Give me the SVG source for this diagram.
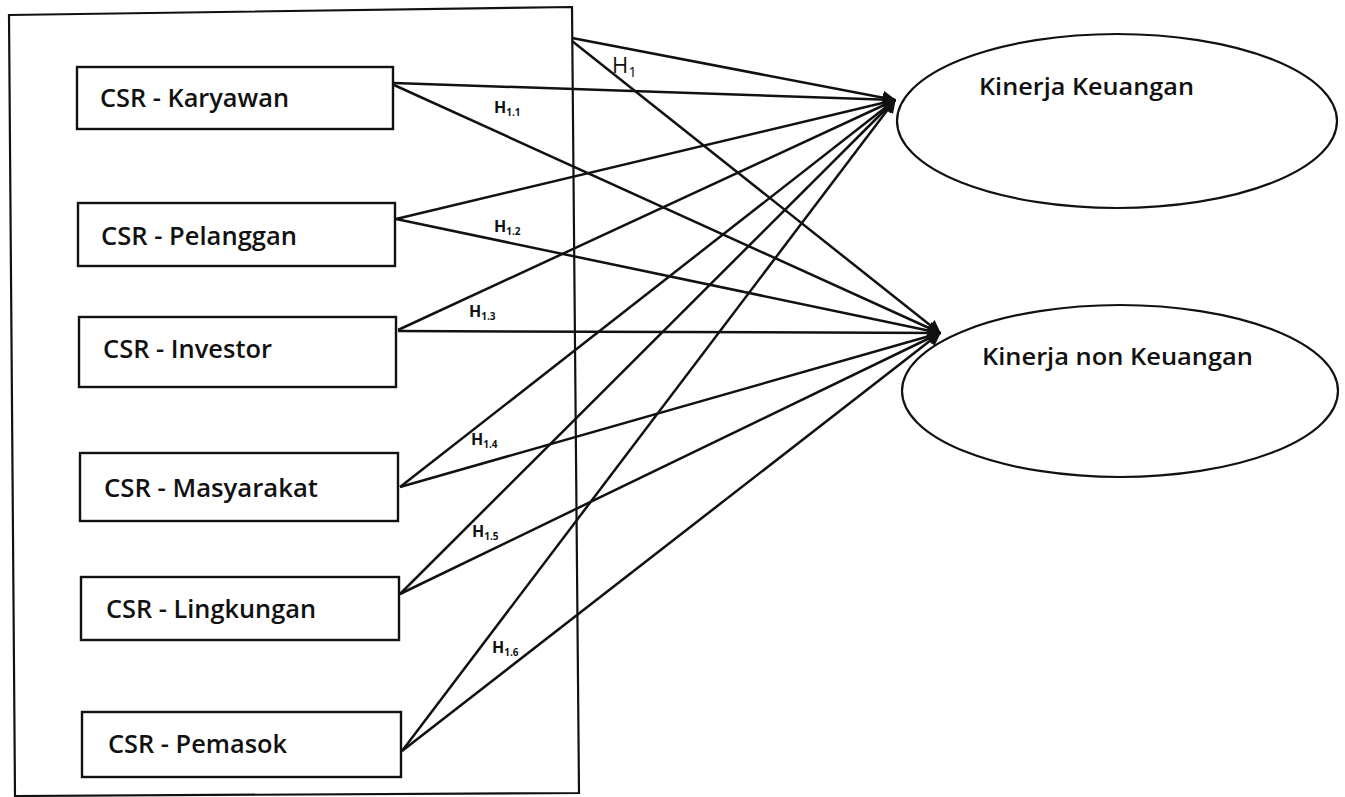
<svg xmlns="http://www.w3.org/2000/svg" width="1345" height="797" viewBox="0 0 1345 797">
<style>
.frame{fill:none;stroke:#111;stroke-width:2.2}
.box{fill:#fff;stroke:#111;stroke-width:2.4}
.ell{fill:#fff;stroke:#111;stroke-width:2.2}
.lbl{font-family:"Open Sans","Noto Sans",sans-serif;font-size:25px;font-weight:600;fill:#111}
.elbl{font-family:"Open Sans","Noto Sans",sans-serif;font-size:24px;font-weight:600;fill:#111}
.h{font-family:"Open Sans","Noto Sans",sans-serif;font-size:16px;font-weight:700;fill:#111}
.sub{font-size:10px}
.htop{font-family:"Open Sans","Noto Sans",sans-serif;font-size:22px;font-weight:500;fill:#111}
.con line{stroke:#111;stroke-width:2.5;marker-end:url(#ah)}
</style>
<defs>
<marker id="ah" viewBox="0 0 10 10" refX="9" refY="5" markerWidth="5.5" markerHeight="5.5" orient="auto" markerUnits="strokeWidth">
<path d="M0,0 L10,5 L0,10 z" fill="#111"/>
</marker>
</defs>
<rect width="1345" height="797" fill="#fff"/>
<polygon id="frame" class="frame" points="9,15 572,7 579,793 15,796"/>

<g id="connectors" class="con">
<line x1="572" y1="38" x2="895" y2="100"/>
<line x1="572" y1="41" x2="940" y2="333"/>
<line x1="394" y1="83" x2="895" y2="100"/>
<line x1="394" y1="85" x2="940" y2="333"/>
<line x1="396" y1="219" x2="895" y2="100"/>
<line x1="396" y1="219" x2="940" y2="333"/>
<line x1="398" y1="330" x2="895" y2="100"/>
<line x1="398" y1="331" x2="940" y2="333"/>
<line x1="400" y1="487" x2="895" y2="100"/>
<line x1="400" y1="487" x2="940" y2="333"/>
<line x1="400" y1="594" x2="895" y2="100"/>
<line x1="400" y1="594" x2="940" y2="333"/>
<line x1="402" y1="751" x2="895" y2="100"/>
<line x1="402" y1="751" x2="940" y2="333"/>
</g>

<g id="labels">
<text class="htop" x="612" y="73">H<tspan font-size="15" dy="4">1</tspan></text>
<text class="h" x="494" y="113">H<tspan class="sub" dy="3">1.1</tspan></text>
<text class="h" x="494" y="232">H<tspan class="sub" dy="3">1.2</tspan></text>
<text class="h" x="469" y="317">H<tspan class="sub" dy="3">1.3</tspan></text>
<text class="h" x="471" y="445">H<tspan class="sub" dy="3">1.4</tspan></text>
<text class="h" x="472" y="537">H<tspan class="sub" dy="3">1.5</tspan></text>
<text class="h" x="492" y="653">H<tspan class="sub" dy="3">1.6</tspan></text>
</g>

<g id="n-karyawan">
<rect class="box" x="77" y="67" width="316" height="62"/>
<text class="lbl" x="100" y="107" textLength="189" lengthAdjust="spacingAndGlyphs">CSR - Karyawan</text>
</g>
<g id="n-pelanggan">
<rect class="box" x="78" y="203" width="317" height="63"/>
<text class="lbl" x="101" y="245" textLength="196" lengthAdjust="spacingAndGlyphs">CSR - Pelanggan</text>
</g>
<g id="n-investor">
<rect class="box" x="79" y="317" width="317" height="70"/>
<text class="lbl" x="103" y="358" textLength="169" lengthAdjust="spacingAndGlyphs">CSR - Investor</text>
</g>
<g id="n-masyarakat">
<rect class="box" x="80" y="453" width="318" height="68"/>
<text class="lbl" x="104" y="497" textLength="214" lengthAdjust="spacingAndGlyphs">CSR - Masyarakat</text>
</g>
<g id="n-lingkungan">
<rect class="box" x="81" y="577" width="318" height="63"/>
<text class="lbl" x="106" y="618" textLength="210" lengthAdjust="spacingAndGlyphs">CSR - Lingkungan</text>
</g>
<g id="n-pemasok">
<rect class="box" x="82" y="712" width="319" height="65"/>
<text class="lbl" x="108" y="753" textLength="179" lengthAdjust="spacingAndGlyphs">CSR - Pemasok</text>
</g>

<g id="n-kinerja-keuangan">
<ellipse class="ell" cx="1117" cy="121" rx="220" ry="87"/>
<text class="elbl" x="979" y="95" textLength="215" lengthAdjust="spacingAndGlyphs">Kinerja Keuangan</text>
</g>
<g id="n-kinerja-non-keuangan">
<ellipse class="ell" cx="1120" cy="391" rx="218" ry="86"/>
<text class="elbl" x="982" y="365" textLength="271" lengthAdjust="spacingAndGlyphs">Kinerja non Keuangan</text>
</g>
</svg>
